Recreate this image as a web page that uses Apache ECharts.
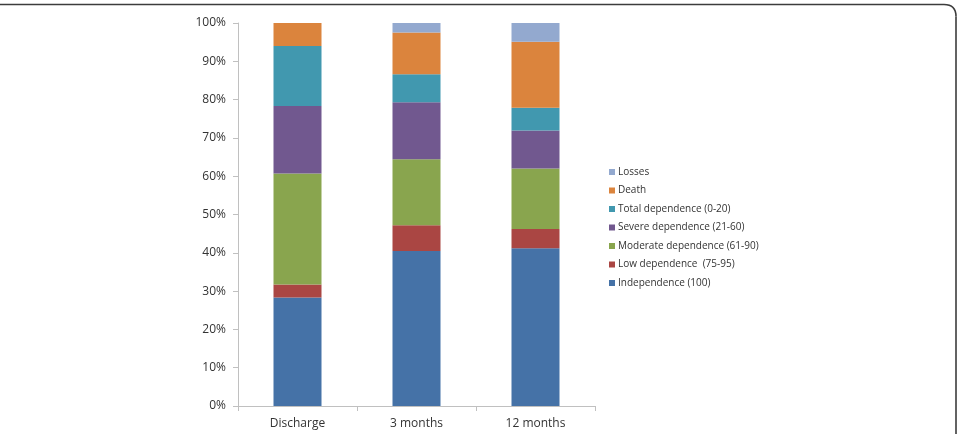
<!DOCTYPE html>
<html>
<head>
<meta charset="utf-8">
<script src="https://cdn.jsdelivr.net/npm/echarts@6/dist/echarts.min.js"></script>
<style>
  html, body { margin: 0; padding: 0; background: #fff; }
  #chart { width: 959px; height: 434px; }
</style>
</head>
<body>
<div id="chart"></div>
<script>
// categories and stacked shares (%)
const categories = ['Discharge', '3 months', '12 months']
const independence = [28.3, 40.5, 41.2]
const lowDependence = [3.4, 6.7, 5.0]
const moderateDependence = [29.0, 17.2, 15.8]
const severeDependence = [17.6, 14.9, 9.9]
const totalDependence = [15.7, 7.3, 6.0]
const death = [6.0, 10.9, 17.2]
const losses = [0, 2.5, 4.9]

const seriesDefs = [
  { name: 'Independence (100)', data: independence, color: '#4572a7' },
  { name: 'Low dependence  (75-95)', data: lowDependence, color: '#aa4643' },
  { name: 'Moderate dependence (61-90)', data: moderateDependence, color: '#89a54e' },
  { name: 'Severe dependence (21-60)', data: severeDependence, color: '#71588f' },
  { name: 'Total dependence (0-20)', data: totalDependence, color: '#4198af' },
  { name: 'Death', data: death, color: '#db843d' },
  { name: 'Losses', data: losses, color: '#93a9cf' },
]

const font = '"Open Sans", "Liberation Sans", sans-serif'
const chart = echarts.init(document.getElementById('chart'))
const frame = { stroke: '#3c3c3c', lineWidth: 1.6, fill: null }

chart.setOption({
  backgroundColor: '#fff',
  animation: false,
  textStyle: { fontFamily: font },
  grid: { left: 238, top: 23, width: 357, height: 383, containLabel: false },
  legend: {
    orient: 'vertical',
    left: 604,
    top: 160,
    itemGap: 4.5,
    itemWidth: 6,
    itemHeight: 6,
    icon: 'rect',
    data: seriesDefs.map(s => s.name).reverse(),
    textStyle: { fontFamily: font, fontSize: 10, lineHeight: 14, color: '#333', padding: [0, 0, 0, -2] },
  },
  xAxis: {
    type: 'category',
    data: categories,
    axisLine: { lineStyle: { color: '#c0c0c0', width: 1 } },
    axisTick: { show: true, length: 5, lineStyle: { color: '#c0c0c0' } },
    axisLabel: { color: '#333', fontSize: 12, fontFamily: font, margin: 12 },
  },
  yAxis: {
    type: 'value',
    min: 0,
    max: 100,
    interval: 10,
    axisLine: { show: true, lineStyle: { color: '#c0c0c0', width: 1 } },
    axisTick: { show: true, length: 5, lineStyle: { color: '#c0c0c0' } },
    splitLine: { show: false },
    axisLabel: { color: '#333', fontSize: 12, fontFamily: font, margin: 12, formatter: '{value}%' },
  },
  series: seriesDefs.map(s => ({
    name: s.name,
    type: 'bar',
    stack: 'total',
    data: s.data,
    barWidth: 48,
    itemStyle: { color: s.color },
  })),
  // rounded panel frame (top edge + top-right corner)
  graphic: [
    { type: 'line', shape: { x1: 0, y1: 4.5, x2: 944, y2: 4.5 }, style: frame },
    { type: 'bezierCurve', shape: { x1: 944, y1: 4.5, x2: 956, y2: 16.5, cpx1: 956, cpy1: 4.5 }, style: frame },
    { type: 'line', shape: { x1: 956, y1: 16.5, x2: 956, y2: 434 }, style: frame },
  ],
})
</script>
</body>
</html>
